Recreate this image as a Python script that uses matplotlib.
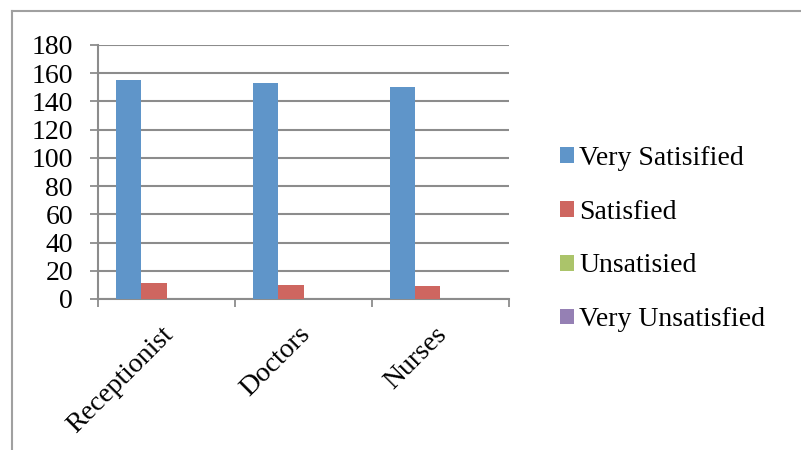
import numpy as np
import matplotlib
matplotlib.use("Agg")
import matplotlib.pyplot as plt
from matplotlib.lines import Line2D

categories = ["Receptionist", "Doctors", "Nurses"]
series = ["Very Satisified", "Satisfied", "Unsatisied", "Very Unsatisfied"]
very_satisfied = [155, 153, 150]
satisfied = [11, 10, 9]
unsatisfied = [0, 0, 0]
very_unsatisfied = [0, 0, 0]
colors = ["#5F95C9", "#CE6660", "#ABC46A", "#9580B4"]

plt.rcParams['font.family'] = ['Liberation Serif', 'DejaVu Serif']
fs = 20

fig = plt.figure(figsize=(8.01, 4.5), dpi=100)
ax = fig.add_axes([98/801, 1-299/450, 411/801, 254/450])

x = np.arange(len(categories))
w = 0.1825
vals = [very_satisfied, satisfied, unsatisfied, very_unsatisfied]
for i, v in enumerate(vals):
    ax.bar(x + (i - 1.5)*w, v, w, color=colors[i], label=series[i], zorder=3)

ax.set_xlim(-0.5, 2.5)
ax.set_ylim(0, 180)
ax.set_yticks(range(0, 181, 20))
ax.yaxis.grid(True, color='#8c8c8c', lw=1.5, zorder=0)
ax.tick_params(axis='y', length=6, width=1.3, color='#8c8c8c', pad=12, labelsize=fs)

# category boundary ticks on the x axis
ax.set_xticks([-0.5, 0.5, 1.5, 2.5])
ax.set_xticklabels([])
ax.tick_params(axis='x', length=6, width=1.3, color='#8c8c8c')
for i, c in enumerate(categories):
    ax.annotate(c, xy=(i + 0.02, 0), xycoords=('data', 'axes fraction'),
                xytext=(0, -23), textcoords='offset points',
                rotation=45, rotation_mode='anchor', ha='right', va='center',
                fontsize=fs)

for s in ['top', 'right']:
    ax.spines[s].set_visible(False)
for s in ['left', 'bottom']:
    ax.spines[s].set_color('#8c8c8c')
    ax.spines[s].set_linewidth(1.5)

ax.legend(loc='center left', bbox_to_anchor=(535/801, 1-239/450),
          bbox_transform=fig.transFigure, frameon=False, fontsize=fs,
          handlelength=0.5, handleheight=0.5, handletextpad=0.2,
          labelspacing=1.04)

# outer chart border
fig.add_artist(Line2D([12/801, 1], [1-11/450, 1-11/450], color='#a0a0a0', lw=1.5))
fig.add_artist(Line2D([12/801, 12/801], [0, 1-11/450], color='#a0a0a0', lw=1.5))

fig.savefig("out.png", dpi=100)
